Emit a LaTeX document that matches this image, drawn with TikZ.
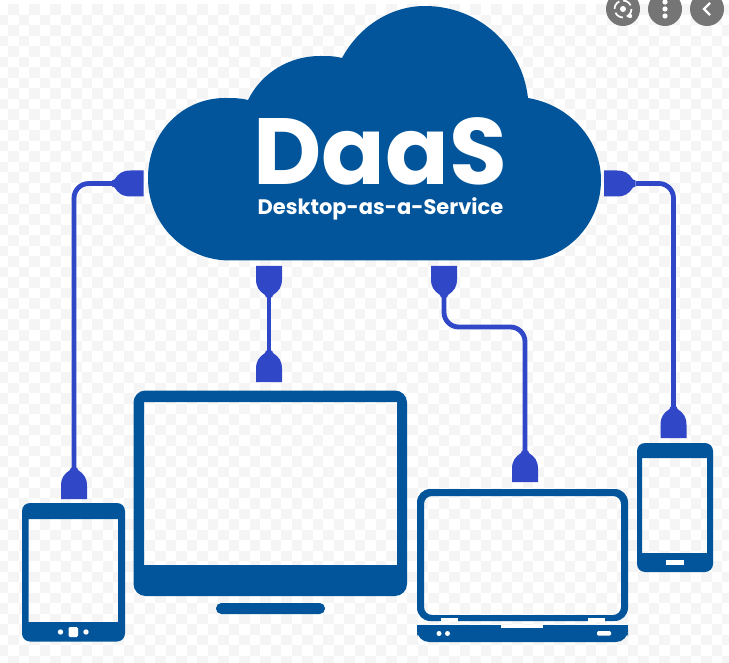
\documentclass[tikz,border=0pt]{standalone}
\usepackage{fontspec}
\setmainfont{Poppins}
\definecolor{cloudblue}{HTML}{02559B}
\definecolor{cableblue}{HTML}{3048C8}
\definecolor{checkgrey}{HTML}{F5F5F5}
\definecolor{btngrey}{HTML}{757575}
\tikzset{
  device/.style={fill=cloudblue,even odd rule,draw=none},
  cutout/.style={fill=white,draw=none},
  cable/.style={draw=cableblue,line width=3.6pt,rounded corners=11pt},
  plug/.pic={\fill[cableblue] (-13,0) -- (-13,-13) .. controls (-13,-21) and (-10,-25) .. (-4,-29) -- (-3,-31.5) -- (3,-31.5) -- (4,-29) .. controls (10,-25) and (13,-21) .. (13,-13) -- (13,0) -- cycle;},
  btn/.style={circle,fill=btngrey,draw=none,minimum size=25.5pt,inner sep=0pt}
}
\begin{document}
\begin{tikzpicture}[x=0.75pt,y=-0.75pt]
\useasboundingbox (0,0) rectangle (729,663);
\fill[white] (0,0) rectangle (729,663);
% checker background
\foreach \i in {0,...,69}{\foreach \j in {0,...,63}{
  \pgfmathparse{int(mod(\i+\j,2))}
  \ifnum\pgfmathresult=1
    \fill[checkgrey] ({-2.5+10.5*\i},{4.5+10.5*\j}) rectangle ++(10.5,10.5);
  \fi
}}
% top right buttons
\node[btn] (b1) at (623,9) {};
\node[btn] (b2) at (665,9) {};
\node[btn] (b3) at (707,9) {};
\draw[white,line width=1.3pt,dash pattern=on 7pt off 3pt] (b1.center) circle (8.5);
\fill[white] (b1.center) circle (3);
\fill[white] ([shift={(7,7)}]b1.center) circle (2.2);
\foreach \d in {-7,0,7}{\fill[white] ([yshift=\d*0.75pt]b2.center) circle (2.6);}
\draw[white,line width=1.6pt] ([shift={(3,-6)}]b3.center) -- ([shift={(-3,0)}]b3.center) -- ([shift={(3,6)}]b3.center);
% cloud
\fill[cloudblue] (230,260.5) .. controls (185,260.5) and (148,225) .. (148,178)
  .. controls (148,132) and (183,98) .. (225,98)
  .. controls (233,98) and (240,98) .. (248,100)
  .. controls (262,72) and (290,56) .. (320,56)
  .. controls (328,56) and (335,56) .. (342,58)
  .. controls (360,25) and (392,6) .. (425,6)
  .. controls (478,6) and (522,45) .. (528,98)
  .. controls (570,105) and (601,140) .. (601,180)
  .. controls (601,225) and (565,260.5) .. (525,260.5) -- cycle;
\node[text=white,font=\fontsize{70.5pt}{70.5pt}\selectfont\bfseries,inner sep=0pt,text height=50pt,text depth=0pt] (title) at (380.5,151) {DaaS};
\node[text=white,font=\fontsize{15.75pt}{16pt}\selectfont\bfseries,inner sep=0pt,text height=11pt,text depth=3pt] (sub) at (380.5,209) {Desktop-as-a-Service};
% connector anchors
\coordinate (pl) at (112,183.5);
\coordinate (pt) at (74,468);
\coordinate (pm1) at (269,297);
\coordinate (pm2) at (269,352);
\coordinate (pr1) at (444,297);
\coordinate (pr2) at (525,452);
\coordinate (pp1) at (636,183.5);
\coordinate (pp2) at (673.5,407);
% cables
\draw[cable] (pl) -| (pt);
\draw[cable] (pm1) -- (pm2);
\draw[cable] (pr1) |- (484.5,327) -| (pr2);
\draw[cable] (pp1) -| (pp2);
% plugs
\path (pt) ++(0,31) pic {plug};
\path (pm2) ++(0,30) pic {plug};
\path (pr2) ++(0,30) pic {plug};
\path (pp2) ++(0,31) pic {plug};
\path (pm1) ++(0,-31) pic[yscale=-1] {plug};
\path (pr1) ++(0,-31) pic[yscale=-1] {plug};
\path (pl) ++(31.5,0) pic[rotate=90] {plug};
\path (pp1) ++(-32,0) pic[rotate=-90] {plug};
% tablet
\fill[device] [rounded corners=6pt] (22,503) rectangle (125,641.5) [sharp corners] (28.5,519) rectangle (118,622);
\fill[cutout,rounded corners=1pt] (68.5,627) rectangle (78,637);
\fill[cutout] (60.5,632) circle (2.7);
\fill[cutout] (86,632) circle (2.7);
% monitor
\fill[device] [rounded corners=9pt] (133.5,390.5) rectangle (407,596) [sharp corners] (144,402) rectangle (397,565);
\fill[device,rounded corners=4pt] (216,603) rectangle (325,614);
% laptop
\fill[device] [rounded corners=10pt] (417,489) rectangle (628,621) [rounded corners=6pt] (424,496) rectangle (621,615);
\fill[cutout] (441,618) rectangle (458,622);
\fill[cutout] (588,618) rectangle (605,622);
\fill[device,rounded corners=9pt] (417,625) -- (417,642) -- (628,642) -- (628,625) -- cycle;
\fill[cloudblue] (417,625) rectangle (628,632);
\fill[cutout] (501,625) rectangle (543,628);
\fill[cutout] (439,633.5) circle (2.5);
\fill[cutout] (447.5,633.5) circle (2.5);
\fill[cutout,rounded corners=1pt] (597,631) rectangle (611,635.7);
% phone
\fill[device] [rounded corners=6pt] (637,443) rectangle (713,572) [sharp corners] (642,458) rectangle (707,553);
\fill[cutout] (666,559.5) rectangle (684,565);
\end{tikzpicture}
\end{document}
